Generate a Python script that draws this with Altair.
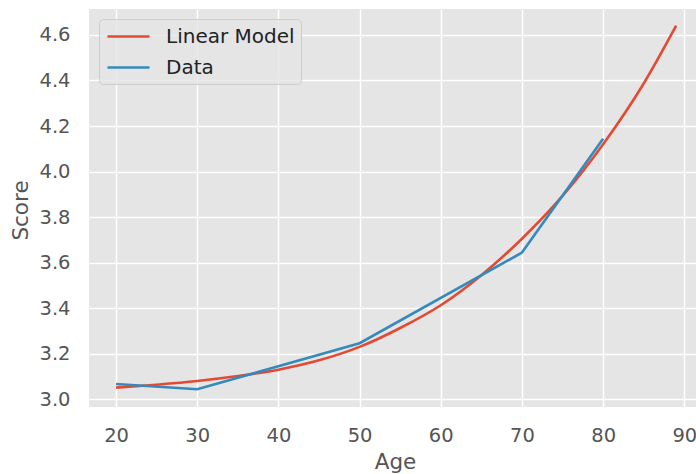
import altair as alt
import pandas as pd

# Observed scores by age
data_age = [20, 30, 50, 70, 80]
data_score = [3.067, 3.044, 3.246, 3.644, 4.144]

# Fitted model curve, sampled along the age range
model_age = [20, 25, 30, 35, 40, 45, 50, 55, 60, 65, 70, 75, 80, 85, 89]
model_score = [3.051, 3.064, 3.080, 3.102, 3.130, 3.171, 3.230, 3.313, 3.413,
               3.545, 3.705, 3.893, 4.120, 4.387, 4.641]

series_names = ["Linear Model", "Data"]
series_colors = ["#E24A33", "#348ABD"]

x_ticks = [20, 30, 40, 50, 60, 70, 80, 90]
y_ticks = [3.0, 3.2, 3.4, 3.6, 3.8, 4.0, 4.2, 4.4, 4.6]

model_df = pd.DataFrame({"Age": model_age, "Score": model_score, "series": series_names[0]})
data_df = pd.DataFrame({"Age": data_age, "Score": data_score, "series": series_names[1]})

FONT = "DejaVu Sans"
TICK_COLOR = "#555555"

x_enc = alt.X(
    "Age:Q",
    scale=alt.Scale(domain=[16.67, 91.44], nice=False, zero=False),
    axis=alt.Axis(
        values=x_ticks, format="d", title="Age",
        labelPadding=34.5, labelBaseline="alphabetic",
        titleX=306, titleY=61, titleBaseline="alphabetic",
        titleAlign="center",
    ),
)
y_enc = alt.Y(
    "Score:Q",
    scale=alt.Scale(domain=[2.966, 4.714], nice=False, zero=False),
    axis=alt.Axis(
        values=y_ticks, format=".1f", title="Score",
        labelPadding=19,
        titleX=-62, titleY=201, titleBaseline="alphabetic", titleAngle=270,
        titleAlign="center",
    ),
)
color_enc = alt.Color(
    "series:N",
    scale=alt.Scale(domain=series_names, range=series_colors),
    sort=series_names,
    legend=alt.Legend(
        title=None, orient="none", legendX=10, legendY=10,
        # wide horizontal stroke drawn from a short symbol box
        symbolType="M-2.1,0H2.1", symbolSize=400, symbolStrokeWidth=2.6,
        symbolOffset=12,
        labelFontSize=20, labelFont=FONT, labelColor="#222222",
        labelOffset=26, rowPadding=9, padding=6,
        fillColor="rgba(229,229,229,0.8)", strokeColor="#cccccc",
        cornerRadius=4,
    ),
)

model_line = alt.Chart(model_df).mark_line(strokeWidth=2.6, interpolate="monotone").encode(
    x=x_enc, y=y_enc, color=color_enc
)
data_line = alt.Chart(data_df).mark_line(strokeWidth=2.6).encode(
    x=x_enc, y=y_enc, color=color_enc
)

chart = alt.layer(model_line, data_line).properties(
    width=607,
    height=398,
    background="white",
    autosize=alt.AutoSizeParams(type="none"),
    padding={"left": 89, "top": 9, "right": 0, "bottom": 67},
).configure_view(
    fill="#E5E5E5", stroke=None,
).configure_axis(
    grid=True, gridColor="#FFFFFF", gridWidth=1.5, gridOpacity=1,
    domain=False, ticks=False, tickSize=0,
    labelFont=FONT, labelFontSize=19.5, labelColor=TICK_COLOR,
    titleFont=FONT, titleFontSize=21.5, titleColor=TICK_COLOR, titleFontWeight="normal",
)

chart.save("out.html", embed_options={"renderer": "svg", "actions": False})
